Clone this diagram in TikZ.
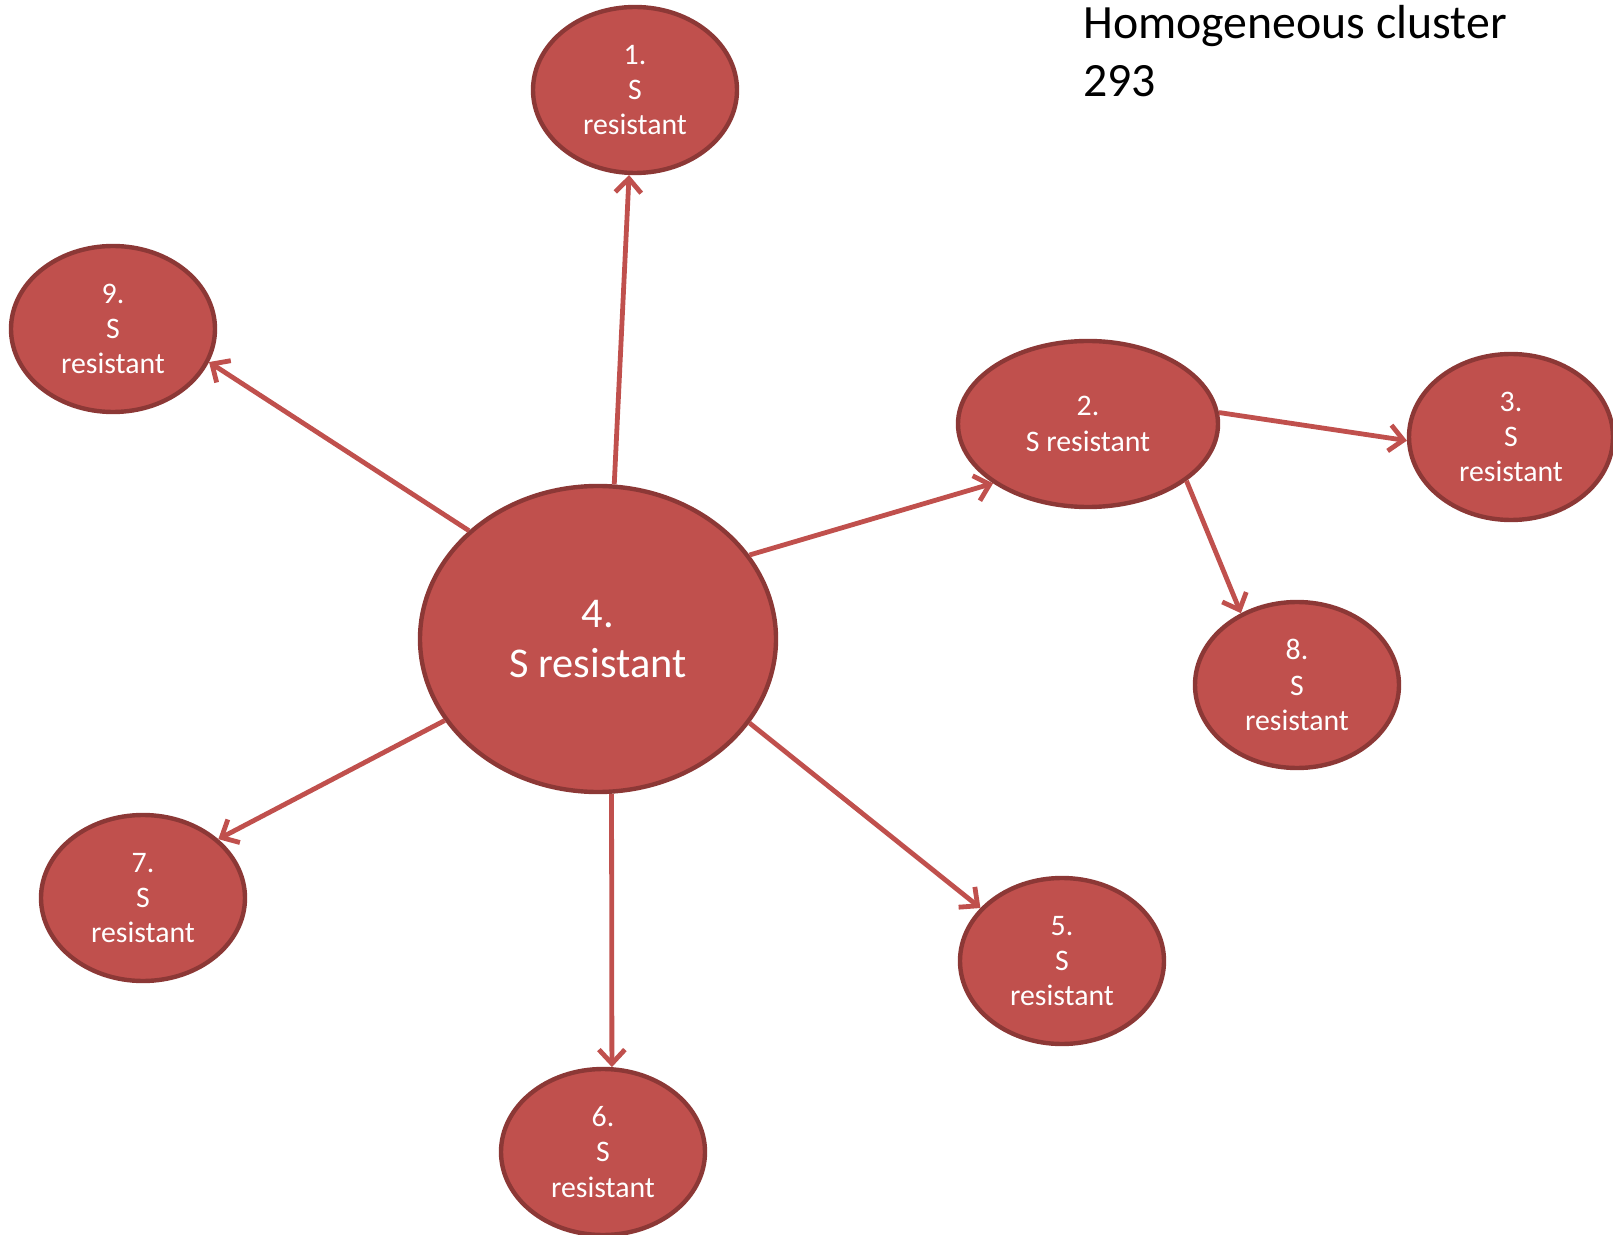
\documentclass[tikz,border=0pt]{standalone}
\usepackage{fontspec}
\setmainfont{Carlito}
\usetikzlibrary{shapes.geometric,arrows.meta}
\definecolor{nodefill}{HTML}{C0504D}
\definecolor{nodeedge}{HTML}{8C3836}
\begin{document}
\begin{tikzpicture}[x=0.5pt,y=-0.5pt,
  oval/.style={ellipse,draw=nodeedge,fill=nodefill,line width=2.2pt,inner sep=0pt,
    minimum width=102pt,minimum height=83pt,text=white,align=center,
    font=\fontsize{14.9pt}{17.7pt}\selectfont},
  bigoval/.style={oval,minimum width=178pt,minimum height=153pt,
    font=\fontsize{21.2pt}{25pt}\selectfont},
  wideoval/.style={oval,minimum width=130pt},
  link/.style={draw=nodefill,line width=2.4pt,-{Straight Barb[length=7pt,width=13pt,line width=2.4pt]}}]
\useasboundingbox (0,0) rectangle (1613,1235);
\node[bigoval] (n4) at (598,639) {4.\\S resistant};
\node[oval] (n1) at (635,90) {1.\\S\\resistant};
\node[oval] (n9) at (113,329) {9.\\S\\resistant};
\node[wideoval] (n2) at (1088,424) {2.\\S resistant};
\node[oval] (n3) at (1511,437) {3.\\S\\resistant};
\node[oval] (n8) at (1297,685) {8.\\S\\resistant};
\node[oval] (n7) at (143,898) {7.\\S\\resistant};
\node[oval] (n6) at (603,1152) {6.\\S\\resistant};
\node[oval] (n5) at (1062,961) {5.\\S\\resistant};
\node[anchor=west,align=left,inner sep=0pt,font=\fontsize{23.9pt}{28.6pt}\selectfont] (title) at (1083,51) {Homogeneous cluster\\293};
\draw[link] (n4.84) -- (n1.266);
\draw[link] (n4.140) -- (n9.341);
\draw[link] (n4.29) -- (n2.212);
\draw[link] (n2.5) -- (n3.182);
\draw[link] (n2.-30) -- (n8.128);
\draw[link] (n4.-29) -- (n5.147);
\draw[link] (n4.-85) -- (n6.84);
\draw[link] (n4.208) -- (n7.38);
\end{tikzpicture}
\end{document}
